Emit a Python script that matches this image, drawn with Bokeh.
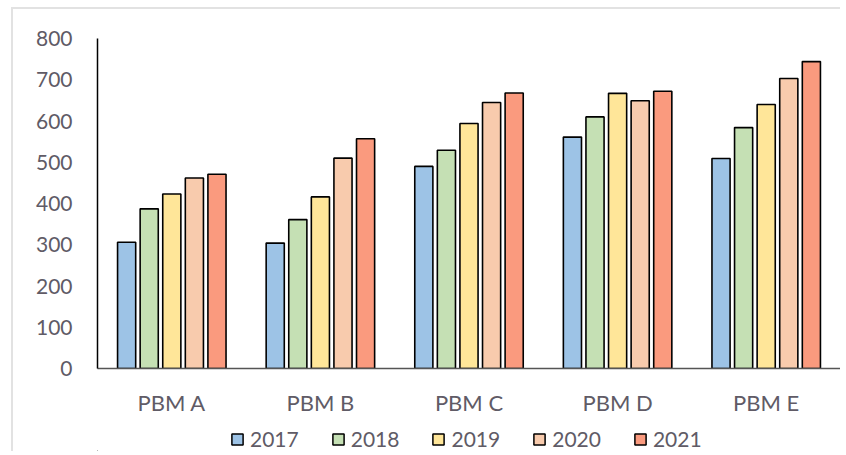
from bokeh.plotting import figure
from bokeh.models import FactorRange, Range1d, Legend, LegendItem, ColumnDataSource, SingleIntervalTicker
from bokeh.layouts import column
from bokeh.transform import dodge
from bokeh.embed import file_html
from bokeh.resources import INLINE

cats = ["PBM A", "PBM B", "PBM C", "PBM D", "PBM E"]
years = ["2017", "2018", "2019", "2020", "2021"]
v2017 = [306, 304, 490, 561, 509]
v2018 = [387, 361, 529, 610, 584]
v2019 = [423, 416, 594, 667, 640]
v2020 = [462, 510, 645, 649, 703]
v2021 = [471, 557, 668, 672, 744]
colors = ["#9DC3E6", "#C5E0B4", "#FFE699", "#F8CBAD", "#FA9A7E"]

src = ColumnDataSource(dict(cat=cats, y2017=v2017, y2018=v2018, y2019=v2019, y2020=v2020, y2021=v2021))

FONT = "Lato"
TXT = "#605b66"

p = figure(x_range=FactorRange(*cats), y_range=Range1d(0, 800),
           width=827, height=416, output_backend="svg", toolbar_location=None,
           min_border_left=84, min_border_right=0, min_border_top=29, min_border_bottom=57)

offsets = [-0.304, -0.152, 0.0, 0.152, 0.304]
for yr, off, col in zip(years, offsets, colors):
    p.vbar(x=dodge("cat", off, range=p.x_range), top="y" + yr, width=0.122, source=src,
           fill_color=col, line_color="black", line_width=1.6)

p.xgrid.grid_line_color = None
p.ygrid.grid_line_color = None
p.outline_line_color = None

p.yaxis.ticker = SingleIntervalTicker(interval=100)
p.yaxis.axis_line_color = "black"
p.yaxis.axis_line_width = 1.5
p.yaxis.major_tick_line_color = None
p.yaxis.minor_tick_line_color = None
p.yaxis.major_label_standoff = 19
p.yaxis.major_label_text_font = FONT
p.yaxis.major_label_text_font_size = "21px"
p.yaxis.major_label_text_color = TXT

p.xaxis.axis_line_color = "#555555"
p.xaxis.axis_line_width = 1.5
p.xaxis.major_tick_line_color = None
p.xaxis.minor_tick_line_color = None
p.xaxis.major_label_standoff = 14
p.xaxis.major_label_text_font = FONT
p.xaxis.major_label_text_font_size = "22px"
p.xaxis.major_label_text_color = TXT

# legend strip
lg = figure(width=827, height=26, output_backend="svg", toolbar_location=None,
            x_axis_type=None, y_axis_type=None, x_range=Range1d(0, 1), y_range=Range1d(0, 1),
            min_border_left=0, min_border_right=0, min_border_top=0, min_border_bottom=0)
lg.outline_line_color = None
lg.xgrid.grid_line_color = None
lg.ygrid.grid_line_color = None
items = []
for yr, col in zip(years, colors):
    r = lg.vbar(x=[-10], top=[0], width=0.1, fill_color=col, line_color="black", line_width=1.5)
    items.append(LegendItem(label=yr, renderers=[r]))
legend = Legend(items=items, orientation="horizontal", location=(133, 0),
                glyph_width=14, glyph_height=14, label_standoff=6, spacing=32,
                padding=0, margin=0, border_line_color=None, background_fill_alpha=0,
                label_text_font=FONT, label_text_font_size="21px", label_text_color=TXT)
lg.add_layout(legend, "center")

layout = column(p, lg, spacing=0, margin=(7, 0, 0, 11),
                styles={"border-top": "2px solid #e2e2e2", "border-left": "2px solid #e2e2e2"})
open("out.html", "w").write(file_html(layout, INLINE))
